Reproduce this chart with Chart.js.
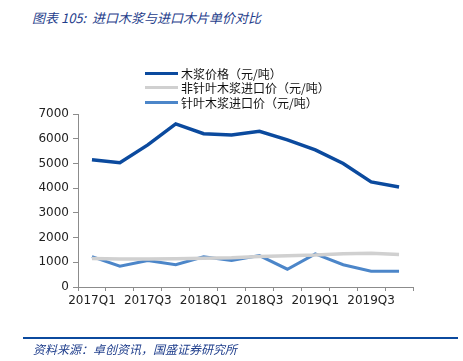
<!DOCTYPE html>
<html>
<head>
<meta charset="utf-8">
<script src="https://cdn.jsdelivr.net/npm/chart.js@4/dist/chart.umd.min.js"></script>
<style>
  html, body { margin: 0; padding: 0; background: #fff; }
  body { width: 463px; height: 361px; position: relative; overflow: hidden;
         font-family: "Noto Sans CJK SC", "DejaVu Sans", sans-serif; }
  #title { position: absolute; left: 32px; top: 8px; font-size: 13px; font-style: italic;
           color: #1f3e8c; white-space: pre; }
  #chart-box { position: absolute; left: 0; top: 0; width: 463px; height: 361px; }
  #legend { position: absolute; left: 145px; top: 66px; font-size: 12px; color: #111; }
  #legend .row { display: flex; align-items: center; height: 14.5px; }
  #legend .swatch { width: 33px; height: 3px; margin-right: 3px; }
  #rule { position: absolute; left: 23px; top: 337px; width: 435px; height: 2px; background: #0b4a9e; }
  #source { position: absolute; left: 33px; top: 340px; font-size: 12px; font-style: italic;
            color: #1f3e8c; white-space: nowrap; }
</style>
</head>
<body>
<div id="title">图表 105:  进口木浆与进口木片单价对比</div>
<div id="chart-box"><canvas id="price-chart" width="463" height="361"></canvas></div>
<div id="legend"></div>
<div id="rule"></div>
<div id="source">资料来源：卓创资讯，国盛证券研究所</div>

<script>
// quarters on the x axis
const quarters = [
  "2017Q1", "2017Q2", "2017Q3", "2017Q4",
  "2018Q1", "2018Q2", "2018Q3", "2018Q4",
  "2019Q1", "2019Q2", "2019Q3", "2019Q4"
];

// 木浆价格 (元/吨)
const pulpPrice = [5150, 5030, 5750, 6600, 6200, 6150, 6300, 5950, 5550, 5000, 4250, 4050];
// 非针叶木浆进口价 (元/吨)
const hardwoodImport = [1150, 1130, 1130, 1140, 1160, 1180, 1230, 1260, 1290, 1350, 1370, 1320];
// 针叶木浆进口价 (元/吨)
const softwoodImport = [1230, 840, 1070, 900, 1220, 1070, 1270, 720, 1340, 900, 640, 640];

const yTicks = [0, 1000, 2000, 3000, 4000, 5000, 6000, 7000];

const seriesList = [
  { label: "木浆价格（元/吨）", data: pulpPrice, color: "#0b4a9e", width: 3.5 },
  { label: "非针叶木浆进口价（元/吨）", data: hardwoodImport, color: "#d0d0d0", width: 3.5 },
  { label: "针叶木浆进口价（元/吨）", data: softwoodImport, color: "#4c86c9", width: 3 }
];

function buildLegend() {
  const box = document.getElementById("legend");
  seriesList.forEach(s => {
    const row = document.createElement("div");
    row.className = "row";
    row.innerHTML = `<span class="swatch" style="background:${s.color}"></span><span>${s.label}</span>`;
    box.appendChild(row);
  });
}

function drawChart() {
  const ctx = document.getElementById("price-chart").getContext("2d");
  const axisColor = "#8c8c8c";

  new Chart(ctx, {
    type: "line",
    data: {
      labels: quarters,
      // draw the grey line first so the blue ones sit on top
      datasets: [seriesList[1], seriesList[2], seriesList[0]].map(s => ({
        label: s.label,
        data: s.data,
        borderColor: s.color,
        backgroundColor: s.color,
        borderWidth: s.width,
        pointRadius: 0,
        tension: 0,
        fill: false
      }))
    },
    options: {
      responsive: false,
      animation: false,
      layout: { padding: { left: 22, right: 50, top: 114, bottom: 40 } },
      plugins: { legend: { display: false }, tooltip: { enabled: false } },
      scales: {
        x: {
          offset: true,
          grid: { offset: true, drawOnChartArea: false, drawTicks: true, tickLength: 4, color: axisColor },
          border: { color: axisColor, width: 1 },
          ticks: {
            autoSkip: false,
            maxRotation: 0,
            padding: 3,
            color: "#222",
            font: { family: "DejaVu Sans", size: 12 },
            callback: (v, i) => (i % 2 === 0 ? quarters[i] : "")
          },
          afterFit: axis => { axis.height = 34; }
        },
        y: {
          min: 0,
          max: 7000,
          afterBuildTicks: axis => { axis.ticks = yTicks.map(v => ({ value: v })); },
          grid: { drawOnChartArea: false, drawTicks: true, tickLength: 5, color: axisColor },
          border: { color: axisColor, width: 1 },
          ticks: {
            padding: 4,
            color: "#222",
            font: { family: "DejaVu Sans", size: 12 },
            callback: v => String(v)
          },
          afterFit: axis => { axis.width = 56; }
        }
      }
    }
  });
}

document.addEventListener("DOMContentLoaded", () => {
  buildLegend();
  drawChart();
});
</script>
</body>
</html>
